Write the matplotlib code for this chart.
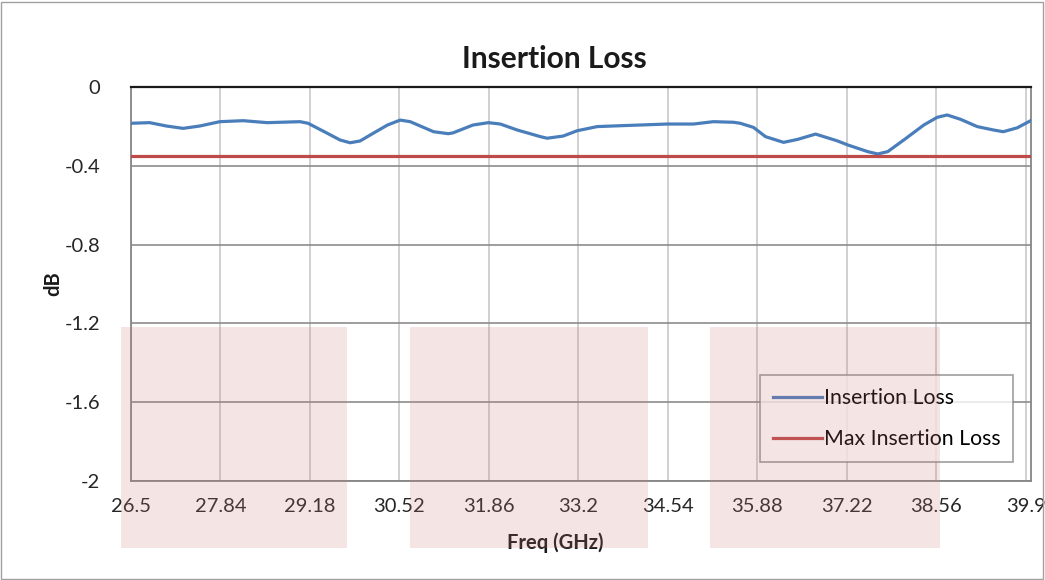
import matplotlib
matplotlib.use("Agg")
import matplotlib.pyplot as plt
from matplotlib.patches import Rectangle

plt.rcParams['font.family'] = ['Lato', 'DejaVu Sans']

freq = [26.51, 26.78, 27.03, 27.28, 27.53, 27.83, 28.18, 28.54, 29.03, 29.15,
        29.44, 29.63, 29.78, 29.93, 30.08, 30.34, 30.53, 30.68, 31.03, 31.25,
        31.32, 31.62, 31.85, 32.03, 32.28, 32.63, 32.73, 32.97, 33.18, 33.48,
        33.87, 34.53, 34.92, 35.22, 35.52, 35.62, 35.82, 36.00, 36.27, 36.48,
        36.75, 37.08, 37.23, 37.53, 37.68, 37.83, 38.07, 38.37, 38.57, 38.72,
        38.92, 39.17, 39.41, 39.56, 39.77, 39.97]
loss = [-0.184, -0.181, -0.198, -0.210, -0.198, -0.176, -0.171, -0.181, -0.176, -0.184,
        -0.235, -0.269, -0.283, -0.274, -0.244, -0.193, -0.168, -0.176, -0.227, -0.237,
        -0.233, -0.193, -0.181, -0.188, -0.218, -0.252, -0.260, -0.249, -0.222, -0.201,
        -0.196, -0.188, -0.188, -0.176, -0.179, -0.184, -0.205, -0.252, -0.281, -0.266,
        -0.239, -0.274, -0.294, -0.328, -0.340, -0.328, -0.269, -0.193, -0.154, -0.142,
        -0.164, -0.201, -0.218, -0.227, -0.207, -0.171]
max_loss = -0.35

xticks = [26.5, 27.84, 29.18, 30.52, 31.86, 33.2, 34.54, 35.88, 37.22, 38.56, 39.9]
xtick_labels = ['26.5', '27.84', '29.18', '30.52', '31.86', '33.2', '34.54',
                '35.88', '37.22', '38.56', '39.9']
yticks = [0, -0.4, -0.8, -1.2, -1.6, -2]
ytick_labels = ['0', '-0.4', '-0.8', '-1.2', '-1.6', '-2']

W, H = 1045, 580
fig = plt.figure(figsize=(W / 100, H / 100), dpi=100)
ax = fig.add_axes([131 / W, 1 - 481 / H, 900 / W, 394 / H])

ax.plot(freq, loss, color='#4a7ebb', lw=2.3, label='Insertion Loss', zorder=3)
ax.axhline(max_loss, color='#be4b48', lw=2.3, label='Max Insertion Loss', zorder=3)

ax.set_xlim(26.5, 39.975)
ax.set_ylim(-2, 0)
ax.set_xticks(xticks)
ax.set_xticklabels(xtick_labels)
ax.set_yticks(yticks)
ax.set_yticklabels(ytick_labels)
ax.tick_params(length=0, labelsize=14.5, pad=12, colors='#262626')
ax.tick_params(axis='y', pad=22)

ax.grid(axis='x', color='#c8c8c8', lw=1.2)
ax.grid(axis='y', color='#8c8c8c', lw=1.2)
ax.set_axisbelow(True)
for s in ['left', 'bottom', 'right']:
    ax.spines[s].set_color('#868686')
    ax.spines[s].set_linewidth(1.3)
ax.spines['top'].set_color('#1a1a1a')
ax.spines['top'].set_linewidth(1.6)

fig.text(554 / W, 1 - 59 / H, 'Insertion Loss', fontsize=21.5, fontweight='bold',
         ha='center', va='center', color='#1a1a1a')
fig.text(555 / W, 1 - 543 / H, 'Freq (GHz)', fontsize=14.5, fontweight='bold',
         ha='center', va='center', color='#1a1a1a')
fig.text(53 / W, 1 - 284 / H, 'dB', fontsize=14.5, fontweight='bold', rotation=90,
         ha='center', va='center', color='#1a1a1a')

leg = ax.legend(loc='lower right', bbox_to_anchor=(0.98, 0.048), fontsize=15.3,
                frameon=True, fancybox=False, handlelength=2.3, handletextpad=0.1,
                labelspacing=1.0, borderpad=0.6, borderaxespad=0)
leg.get_frame().set_edgecolor('#868686')
leg.get_frame().set_linewidth(1.2)

# outer chart border
fig.patches.append(Rectangle((1 / W, 1 / H), (W - 3) / W, (H - 3) / H,
                             transform=fig.transFigure, fill=False,
                             edgecolor='#a0a0a0', lw=1))

# translucent pink blocks over the chart
for x0, x1 in [(121, 347), (410, 648), (710, 940)]:
    fig.patches.append(Rectangle((x0 / W, 1 - 548 / H), (x1 - x0) / W, 221 / H,
                                 transform=fig.transFigure, color='#c97878',
                                 alpha=0.2, lw=0, zorder=10))

fig.savefig('out.png', dpi=100)
